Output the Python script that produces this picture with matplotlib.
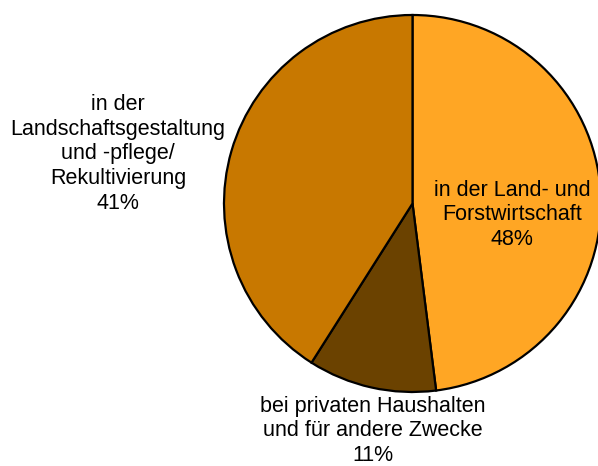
import matplotlib
matplotlib.use("Agg")
import matplotlib.pyplot as plt

categories = ["in der Land- und\nForstwirtschaft",
              "bei privaten Haushalten\nund für andere Zwecke",
              "in der\nLandschaftsgestaltung\nund -pflege/\nRekultivierung"]
values = [48, 11, 41]
colors = ["#FFA624", "#6B4200", "#C87800"]
label_pos = [(512, 215), (373, 431), (118, 154)]

plt.rcParams['font.family'] = ['Liberation Sans', 'DejaVu Sans']
fig = plt.figure(figsize=(5.98, 4.66), dpi=100)
ax = fig.add_axes([0, 0, 1, 1])
H = 466
ax.pie(values, colors=colors, startangle=90, counterclock=False,
       center=(412.5, H - 203.5), radius=188.5,
       wedgeprops=dict(edgecolor="black", linewidth=1.6))
ax.set_xlim(0, 598)
ax.set_ylim(0, H)
ax.set_aspect('equal')
ax.axis('off')

for cat, v, (x, y) in zip(categories, values, label_pos):
    ax.text(x, H - y, f"{cat}\n{v}%", ha="center", va="center",
            fontsize=15.5, linespacing=1.22, color="black")

fig.savefig("out.png", dpi=100)
